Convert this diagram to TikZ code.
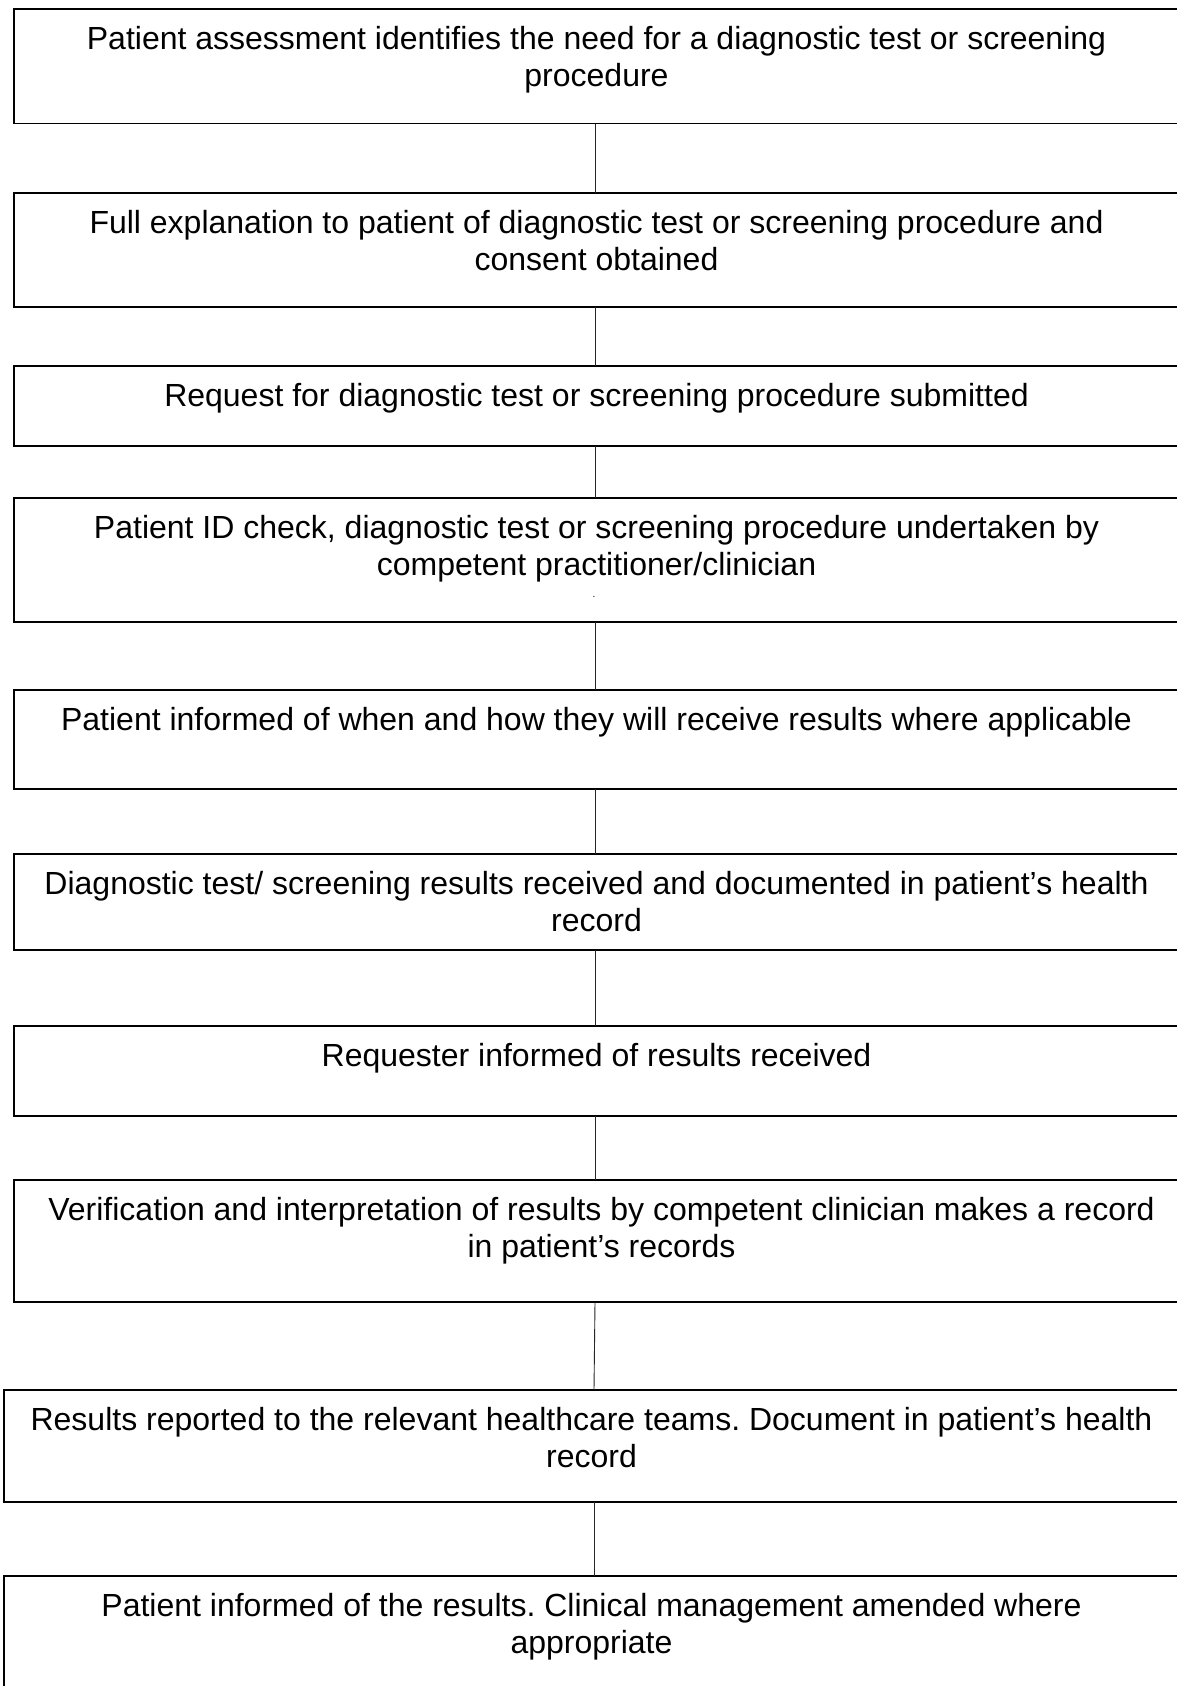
\documentclass[tikz,border=0pt]{standalone}
\usepackage{fontspec}
\setmainfont{Liberation Sans}
\frenchspacing
\begin{document}
\begin{tikzpicture}[x=1pt,y=-1pt,
  stepbox/.style={draw=black,line width=1.4pt,rectangle,inner sep=0pt},
  steptext/.style={anchor=north,inner sep=0pt,align=center,
    font=\fontsize{32}{37.5}\selectfont},
  link/.style={draw=black!85,line width=0.9pt}]
\path[use as bounding box] (0,0) rectangle (1176,1686);
\fill[white] (0,0) rectangle (1176,1686);
% boxes
\draw[stepbox] (14,9) rectangle (1179,123.5);
\coordinate (b1t) at (595,9); \coordinate (b1b) at (595,123.5);
\draw[stepbox] (14,193) rectangle (1179,307);
\coordinate (b2t) at (595,193); \coordinate (b2b) at (595,307);
\draw[stepbox] (14,366) rectangle (1179,446);
\coordinate (b3t) at (595,366); \coordinate (b3b) at (595,446);
\draw[stepbox] (14,498) rectangle (1179,622);
\coordinate (b4t) at (595,498); \coordinate (b4b) at (595,622);
\draw[stepbox] (14,690) rectangle (1179,789);
\coordinate (b5t) at (595,690); \coordinate (b5b) at (595,789);
\draw[stepbox] (14,854) rectangle (1179,950);
\coordinate (b6t) at (595,854); \coordinate (b6b) at (595,950);
\draw[stepbox] (14,1026) rectangle (1179,1116);
\coordinate (b7t) at (595,1026); \coordinate (b7b) at (595,1116);
\draw[stepbox] (14,1180) rectangle (1179,1302);
\coordinate (b8t) at (595,1180); \coordinate (b8b) at (595,1302);
\draw[stepbox] (4,1390) rectangle (1179,1502);
\coordinate (b9t) at (594,1390); \coordinate (b9b) at (594,1502);
\draw[stepbox] (4,1576) rectangle (1179,1720);
\coordinate (b10t) at (594,1576);
% texts
\node[steptext] (t1) at (596.5,23) {\strut Patient assessment identifies the need for a diagnostic test or screening\\procedure};
\node[steptext] (t2) at (596.5,207) {\strut Full explanation to patient of diagnostic test or screening procedure and\\consent obtained};
\node[steptext] (t3) at (596.5,380) {\strut Request for diagnostic test or screening procedure submitted};
\node[steptext] (t4) at (596.5,512) {\strut Patient ID check, diagnostic test or screening procedure undertaken by\\competent practitioner/clinician};
\node[inner sep=0pt,anchor=base,font=\fontsize{10}{12}\selectfont] (dot4) at (594,597) {.};
\node[steptext] (t5) at (596.5,704) {\strut Patient informed of when and how they will receive results where applicable};
\node[steptext] (t6) at (596.5,868) {\strut Diagnostic test/ screening results received and documented in patient’s health\\record};
\node[steptext] (t7) at (596.5,1040) {\strut Requester informed of results received};
\node[steptext] (t8) at (601.5,1194) {\strut Verification and interpretation of results by competent clinician makes a record\\in patient’s records};
\node[steptext] (t9) at (591.5,1404) {\strut Results reported to the relevant healthcare teams. Document in patient’s health\\record};
\node[steptext] (t10) at (591.5,1590) {\strut Patient informed of the results. Clinical management amended where\\appropriate};
% connectors
\draw[link] (b1b) -- (b2t);
\draw[link] (b2b) -- (b3t);
\draw[link] (b3b) -- (b4t);
\draw[link] (b4b) -- (b5t);
\draw[link] (b5b) -- (b6t);
\draw[link] (b6b) -- (b7t);
\draw[link] (b7b) -- (b8t);
\draw[link] (b8b) -- (b9t);
\draw[link] (b9b) -- (b10t);
\end{tikzpicture}
\end{document}
